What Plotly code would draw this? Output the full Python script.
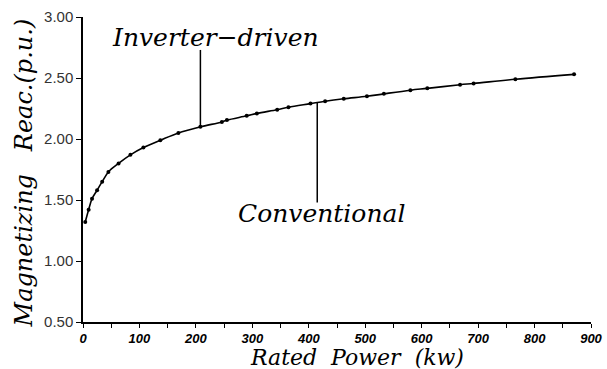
import plotly.graph_objects as go

rated_kw = [4, 10, 16, 25, 34, 45, 63, 84, 107, 137, 169, 208, 246, 255, 290, 308,
            344, 364, 403, 429, 462, 503, 533, 580, 610, 668, 692, 766, 870]
reac_conventional = [1.32, 1.42, 1.51, 1.58, 1.65, 1.73, 1.80, 1.87, 1.93, 1.99, 2.05,
                     2.10, 2.14, 2.155, 2.19, 2.21, 2.24, 2.26, 2.29, 2.31, 2.33, 2.35,
                     2.37, 2.40, 2.415, 2.445, 2.455, 2.49, 2.53]
reac_inverter = [1.32, 1.42, 1.51, 1.58, 1.65, 1.73, 1.80, 1.87, 1.93, 1.99, 2.05,
                 2.10, 2.14, 2.155, 2.19, 2.21, 2.24, 2.26, 2.29, 2.31, 2.33, 2.35,
                 2.37, 2.40, 2.415, 2.445, 2.455, 2.49, 2.53]

x_ticks = [0, 100, 200, 300, 400, 500, 600, 700, 800, 900]
y_ticks = [0.5, 1.0, 1.5, 2.0, 2.5, 3.0]

x_title = "Rated  Power  (kw)"
y_title = "Magnetizing   Reac.(p.u.)"

# label anchors (kW, p.u.)
inv_label = ("Inverter−driven", 234, 2.83)
inv_leader = (208, 2.10, 2.73)
conv_label = ("Conventional", 422, 1.393)
conv_leader = (415, 2.30, 1.48)

fig = go.Figure()
fig.add_trace(go.Scatter(x=rated_kw, y=reac_inverter, mode="lines",
                         line=dict(color="black", width=1.6, shape="spline"),
                         name="Inverter-driven", showlegend=False))
fig.add_trace(go.Scatter(x=rated_kw, y=reac_conventional, mode="markers",
                         marker=dict(color="black", size=4),
                         name="Conventional", showlegend=False))

fig.add_shape(type="line", x0=inv_leader[0], x1=inv_leader[0], y0=inv_leader[1], y1=inv_leader[2],
              line=dict(color="black", width=1.5))
fig.add_shape(type="line", x0=conv_leader[0], x1=conv_leader[0], y0=conv_leader[1], y1=conv_leader[2],
              line=dict(color="black", width=1.5))

serif_it = dict(family="DejaVu Serif", size=25, color="black", style="italic")
fig.add_annotation(x=inv_label[1], y=inv_label[2], text=inv_label[0], showarrow=False,
                   font=serif_it, xanchor="center", yanchor="middle")
fig.add_annotation(x=conv_label[1], y=conv_label[2], text=conv_label[0], showarrow=False,
                   font=serif_it, xanchor="center", yanchor="middle")

# axis titles placed as paper annotations
fig.add_annotation(xref="paper", yref="paper", x=0.540, y=-0.118, text=x_title,
                   showarrow=False, xanchor="center", yanchor="middle", borderpad=0,
                   font=dict(family="DejaVu Serif", size=22, color="black", style="italic"))
fig.add_annotation(xref="paper", yref="paper", x=-0.117, y=0.489, text=y_title,
                   showarrow=False, xanchor="center", yanchor="middle", textangle=-90,
                   font=dict(family="DejaVu Serif", size=24, color="black", style="italic"))

fig.update_layout(
    width=607, height=369,
    margin=dict(l=83, r=16, t=17, b=47),
    paper_bgcolor="white", plot_bgcolor="white",
    showlegend=False,
)
fig.update_xaxes(
    range=[0, 900], tickvals=x_ticks, ticktext=[str(v) for v in x_ticks],
    automargin=False,
    showgrid=False, zeroline=False, showline=True, linecolor="black", linewidth=1.5,
    ticks="outside", ticklen=4, tickcolor="black",
    minor=dict(dtick=50, ticks="outside", ticklen=4, tickcolor="black", showgrid=False),
    tickfont=dict(family="Liberation Sans", size=13, color="black", weight="bold", style="italic"),
)
fig.update_yaxes(
    range=[0.5, 3.0], tickvals=y_ticks, tickformat=".2f",
    automargin=False,
    showgrid=False, zeroline=False, showline=True, linecolor="black", linewidth=1.5,
    ticks="outside", ticklen=5, tickcolor="black",
    tickfont=dict(family="Liberation Sans", size=15, color="#333"),
)

fig.write_html("out.html", config={"displayModeBar": False},
               post_script="document.body.style.margin='0px';")
